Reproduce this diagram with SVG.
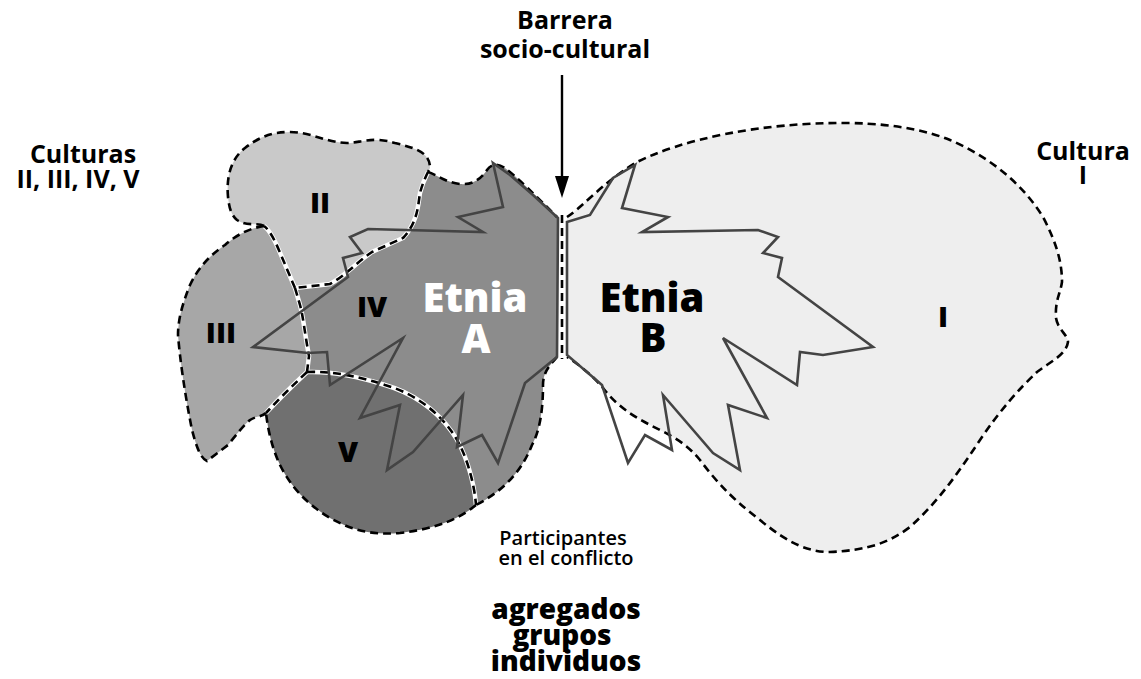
<svg xmlns="http://www.w3.org/2000/svg" width="1141" height="679" viewBox="0 0 1141 679">
<style>
text{font-family:"Open Sans","Liberation Sans",sans-serif;font-weight:bold;text-anchor:middle}
.dash{fill:none;stroke:#000;stroke-width:2.6;stroke-dasharray:8 5}
.under{fill:none;stroke:#fff;stroke-width:4.5}
.etn{fill:none;stroke:#444;stroke-width:2.6;stroke-linejoin:miter}
.lbl{font-size:29px;font-weight:800}
.big{font-size:40px;font-weight:800}
.cap{font-size:25px}
</style>
<rect width="1141" height="679" fill="#fff"/>
<defs>
<path id="sI" d="M567,217 C585,205 600,185 635,163 C680,140 760,122 850,123 C900,124 930,132 950,140 C985,155 1020,180 1043,217 C1055,240 1062,260 1062,282 C1060,295 1055,300 1056,318 C1058,330 1068,335 1068,342 C1066,355 1050,362 1037,372 C1020,388 1000,410 980,440 C960,470 940,500 910,527 C890,542 870,550 830,552 C810,552 790,545 760,520 C740,505 720,487 700,460 C690,448 680,440 660,430 C640,420 620,410 603,388 C595,378 580,365 567,357"/>
<path id="s1" d="M264,226 C257,222 247,227 237,220 C230,214 229,205 228,197 C226,175 232,158 245,148 C258,138 270,132 290,132 C310,132 325,142 347,143 C360,143 372,136 395,143 C415,148 430,152 430,168 L428,172"/>
<path id="s2" d="M428,172 C425,178 422,185 420,193 C418,205 418,222 403,238 L372,252 C357,262 345,276 330,284 L295,288"/>
<path id="s3" d="M295,288 L284,262 C278,248 272,232 264,226"/>
<path id="s4" d="M264,226 C250,228 236,235 225,245 C210,255 198,268 190,285 C182,305 178,320 178,335 C180,360 185,395 192,430 C196,445 200,458 207,461 L228,445 C236,435 244,425 250,420 C256,416 262,417 266,413"/>
<path id="s5" d="M295,288 L300,305 C303,315 305,335 309,356 L307,372"/>
<path id="s6" d="M307,372 C290,388 278,400 266,413"/>
<path id="s7" d="M307,372 C335,371 360,377 385,385 C410,392 435,408 452,432 C465,450 474,480 476,505"/>
<path id="s8" d="M476,505 C460,518 440,528 400,533 C375,535 355,532 330,518 C305,503 290,485 280,465 C272,448 268,430 266,413"/>
<path id="s9" d="M428,172 C436,174 444,182 460,184 C472,185 480,180 487,170 C491,164 497,163 505,168 C518,178 535,195 557,217"/>
<path id="s10" d="M557,357 C550,365 543,372 543,385 C543,410 540,430 532,445 C522,470 505,490 476,505"/>
<path id="s11" d="M562,215 L562,359"/>
</defs>
<g id="cultura-I"><path fill="#eeeeee" d="M567,217 C585,205 600,185 635,163 C680,140 760,122 850,123 C900,124 930,132 950,140 C985,155 1020,180 1043,217 C1055,240 1062,260 1062,282 C1060,295 1055,300 1056,318 C1058,330 1068,335 1068,342 C1066,355 1050,362 1037,372 C1020,388 1000,410 980,440 C960,470 940,500 910,527 C890,542 870,550 830,552 C810,552 790,545 760,520 C740,505 720,487 700,460 C690,448 680,440 660,430 C640,420 620,410 603,388 C595,378 580,365 567,357 Z"/></g>
<g id="cultura-III"><path fill="#a7a7a7" d="M264,226 C250,228 236,235 225,245 C210,255 198,268 190,285 C182,305 178,320 178,335 C180,360 185,395 192,430 C196,445 200,458 207,461 L228,445 C236,435 244,425 250,420 C256,416 262,417 266,413 C278,400 290,388 307,372 L309,356 C305,335 303,315 300,305 L295,288 L284,262 C278,248 272,232 264,226 Z"/></g>
<g id="cultura-II"><path fill="#c9c9c9" d="M228,197 C226,175 232,158 245,148 C258,138 270,132 290,132 C310,132 325,142 347,143 C360,143 372,136 395,143 C415,148 430,152 430,168 L428,172 C425,178 422,185 420,193 C418,205 418,222 403,238 L372,252 C357,262 345,276 330,284 L295,288 L284,262 C278,248 272,232 264,226 C257,222 247,227 237,220 C230,214 229,205 228,197 Z"/></g>
<g id="cultura-IV"><path fill="#8c8c8c" d="M428,172 C436,174 444,182 460,184 C472,185 480,180 487,170 C491,164 497,163 505,168 C518,178 535,195 557,217 L557,357 C550,365 543,372 543,385 C543,410 540,430 532,445 C522,470 505,490 476,505 C474,480 465,450 452,432 C435,408 410,392 385,385 C360,377 335,371 307,372 L309,356 C305,335 303,315 300,305 L295,288 L330,284 C345,276 357,262 372,252 L403,238 C418,222 418,205 420,193 C422,185 425,178 428,172 Z"/></g>
<g id="cultura-V"><path fill="#707070" d="M307,372 C335,371 360,377 385,385 C410,392 435,408 452,432 C465,450 474,480 476,505 C460,518 440,528 400,533 C375,535 355,532 330,518 C305,503 290,485 280,465 C272,448 268,430 266,413 C278,400 290,388 307,372 Z"/></g>
<g id="borders">
<use href="#s2" class="under"/>
<use href="#s3" class="under"/>
<use href="#s5" class="under"/>
<use href="#s6" class="under"/>
<use href="#s7" class="under"/>
<use href="#s11" class="under"/>
<use href="#sI" class="dash"/>
<use href="#s1" class="dash"/>
<use href="#s2" class="dash"/>
<use href="#s3" class="dash"/>
<use href="#s4" class="dash"/>
<use href="#s5" class="dash"/>
<use href="#s6" class="dash"/>
<use href="#s7" class="dash"/>
<use href="#s8" class="dash"/>
<use href="#s9" class="dash"/>
<use href="#s10" class="dash"/>
<use href="#s11" class="dash"/>
</g>
<g id="etnia-A">
<polygon class="etn" points="558,218 533,195 510,175 493,163 503,207 458,217 483,232 368,229 350,237 362,253 343,258 348,277 253,347 308,353 327,352 330,385 403,338 360,418 400,405 387,470 413,452 463,395 457,447 482,435 498,463 525,383 557,357"/>
<text x="475" y="312" class="big" fill="#fff">Etnia</text>
<text x="476" y="353" class="big" fill="#fff">A</text>
</g>
<g id="etnia-B">
<polygon class="etn" points="567,222 590,215 613,178 635,165 622,208 668,217 642,232 758,230 778,237 763,253 782,258 778,277 873,347 823,355 800,352 797,385 723,338 767,418 728,405 740,470 713,453 663,395 672,450 645,435 628,463 602,385 567,355"/>
<text x="652" y="312" class="big">Etnia</text>
<text x="653" y="352" class="big">B</text>
</g>
<g id="labels">
<text x="320" y="213" class="lbl">II</text>
<text x="221" y="343" class="lbl">III</text>
<text x="372" y="317" class="lbl">IV</text>
<text x="348" y="462" class="lbl">V</text>
<text x="943" y="327" class="lbl">I</text>
<text x="83" y="163" class="cap">Culturas</text>
<text x="78" y="188" class="cap">II, III, IV, V</text>
<text x="1083" y="160" class="cap">Cultura</text>
<text x="1083" y="184" class="cap">I</text>
<text x="565" y="29" class="cap">Barrera</text>
<text x="565" y="58" class="cap">socio-cultural</text>
<text x="563" y="545" style="font-size:20px;font-weight:600">Participantes</text>
<text x="566" y="565" style="font-size:20px;font-weight:600">en el conflicto</text>
<text x="566" y="619" style="font-size:28px;font-weight:800">agregados</text>
<text x="562" y="645" style="font-size:28px;font-weight:800">grupos</text>
<text x="566" y="671" style="font-size:28px;font-weight:800">individuos</text>
</g>
<g id="connectors">
<line x1="562" y1="75" x2="562" y2="180" stroke="#000" stroke-width="2.4"/>
<polygon points="555,176 569,176 562,198" fill="#000"/>
</g>
</svg>
